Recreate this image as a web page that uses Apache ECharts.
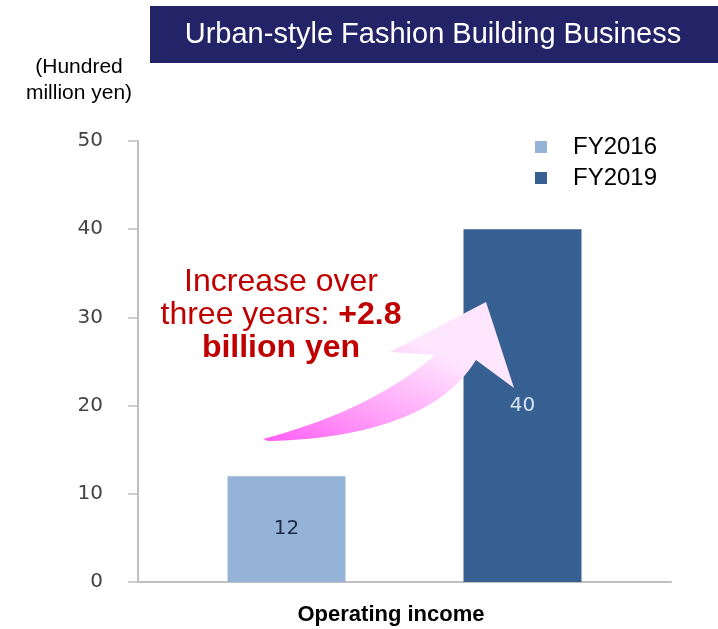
<!DOCTYPE html>
<html>
<head>
<meta charset="utf-8">
<style>
  html, body { margin: 0; padding: 0; background: #ffffff; }
  #chart { width: 718px; height: 629px; }
</style>
<script src="https://cdn.jsdelivr.net/npm/echarts@6/dist/echarts.min.js"></script>
</head>
<body>
<div id="chart"></div>
<script>
// Operating income of the urban-style fashion building business (hundred million yen)
const categories = ['Operating income'];
const seriesNames = ['FY2016', 'FY2019'];
const fy2016Values = [12];
const fy2019Values = [40];
const yAxisMin = 0;
const yAxisMax = 50;
const yAxisStep = 10;

const chart = echarts.init(document.getElementById('chart'), null, { renderer: 'canvas' });

// Curved "increase" arrow: a band between two quadratic curves plus an arrow head
function quad(p0, c, p1, n) {
  const pts = [];
  for (let i = 0; i <= n; i++) {
    const t = i / n, u = 1 - t;
    pts.push([u * u * p0[0] + 2 * u * t * c[0] + t * t * p1[0],
              u * u * p0[1] + 2 * u * t * c[1] + t * t * p1[1]]);
  }
  return pts;
}
function arrowPoints() {
  const tail = [263, 439];
  const upperEnd = [435, 355];
  const lowerStart = [476, 360];
  const upper = quad(tail, [372, 410], upperEnd, 30);
  const head = [[390, 352], [486, 302], [514, 388]];
  const lower = quad(lowerStart, [428, 437], [268, 441], 30);
  return upper.concat(head, lower);
}

const option = {
  animation: false,
  textStyle: { fontFamily: 'Liberation Sans, Arial, sans-serif' },
  grid: { left: 138, right: 47, top: 141, bottom: 47, containLabel: false },
  legend: {
    orient: 'vertical',
    left: 535,
    top: 135,
    padding: 0,
    itemWidth: 12,
    itemHeight: 12,
    itemGap: 7,
    icon: 'rect',
    data: seriesNames,
    textStyle: {
      fontSize: 24,
      color: '#000000',
      fontFamily: 'Liberation Sans, Arial, sans-serif',
      padding: [0, 0, 0, 21]
    }
  },
  xAxis: {
    type: 'category',
    data: categories,
    axisLine: { show: true, lineStyle: { color: '#bfbfbf', width: 2 } },
    axisTick: { show: false },
    axisLabel: {
      fontSize: 22,
      fontWeight: 'bold',
      color: '#000000',
      fontFamily: 'Liberation Sans, Arial, sans-serif',
      margin: 22,
      padding: [0, 27, 0, 0]
    }
  },
  yAxis: {
    type: 'value',
    min: yAxisMin,
    max: yAxisMax,
    interval: yAxisStep,
    axisLine: { show: true, lineStyle: { color: '#bfbfbf', width: 2 } },
    axisTick: { show: true, length: 10, lineStyle: { color: '#bfbfbf', width: 1.5 } },
    splitLine: { show: false },
    axisLabel: {
      fontSize: 20,
      color: '#444444',
      fontFamily: 'DejaVu Sans, Verdana, sans-serif',
      margin: 35
    }
  },
  series: [
    {
      name: seriesNames[0],
      type: 'bar',
      data: fy2016Values,
      barWidth: 118,
      barGap: '100%',
      itemStyle: { color: '#95b3d7' },
      label: {
        show: true,
        position: 'inside',
        fontSize: 20,
        color: '#1c2a48',
        fontFamily: 'DejaVu Sans, Verdana, sans-serif'
      }
    },
    {
      name: seriesNames[1],
      type: 'bar',
      data: fy2019Values,
      barWidth: 118,
      barGap: '100%',
      itemStyle: { color: '#376092' },
      label: {
        show: true,
        position: 'inside',
        fontSize: 20,
        color: '#d6e2f2',
        fontFamily: 'DejaVu Sans, Verdana, sans-serif'
      }
    }
  ],
  graphic: [
    {
      type: 'rect',
      left: 150,
      top: 6,
      shape: { width: 568, height: 57 },
      style: { fill: '#232368' },
      z: 10
    },
    {
      type: 'text',
      x: 433,
      y: 35,
      style: {
        text: 'Urban-style Fashion Building Business',
        fill: '#ffffff',
        font: '29px "Liberation Sans", Arial, sans-serif',
        align: 'center',
        verticalAlign: 'middle'
      },
      z: 11
    },
    {
      type: 'text',
      x: 79,
      y: 54,
      style: {
        text: '(Hundred\nmillion yen)',
        fill: '#000000',
        font: '21px "Liberation Sans", Arial, sans-serif',
        lineHeight: 26,
        align: 'center',
        verticalAlign: 'top'
      },
      z: 10
    },
    {
      type: 'polygon',
      shape: { points: arrowPoints() },
      style: {
        fill: new echarts.graphic.LinearGradient(0, 1, 0.25, 0, [
          { offset: 0, color: '#ff5ef4' },
          { offset: 0.5, color: '#ffa6f8' },
          { offset: 1, color: '#ffe6ff' }
        ])
      },
      z: 20
    },
    {
      type: 'text',
      x: 281,
      y: 266,
      style: {
        text: '{r|Increase over}\n{r|three years: }{b|+2.8}\n{b|billion yen}',
        align: 'center',
        verticalAlign: 'top',
        fill: '#c00000',
        rich: {
          r: {
            fontSize: 32,
            lineHeight: 33,
            fontFamily: 'Liberation Sans, Arial, sans-serif',
            fill: '#c00000'
          },
          b: {
            fontSize: 32,
            lineHeight: 33,
            fontWeight: 'bold',
            fontFamily: 'Liberation Sans, Arial, sans-serif',
            fill: '#c00000'
          }
        }
      },
      z: 21
    }
  ]
};

chart.setOption(option);
</script>
</body>
</html>
